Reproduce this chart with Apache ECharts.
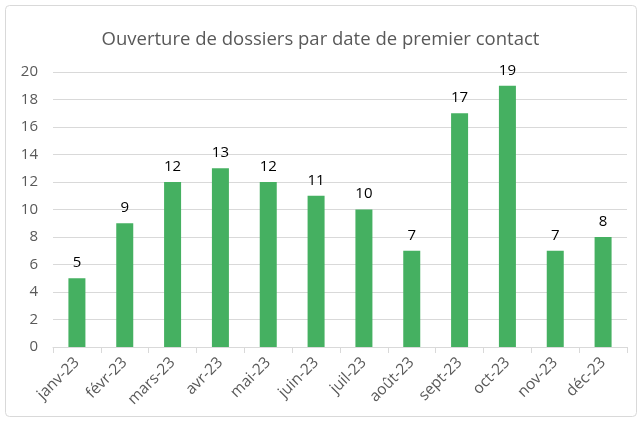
<!DOCTYPE html>
<html>
<head>
<meta charset="utf-8">
<script src="https://cdn.jsdelivr.net/npm/echarts@6/dist/echarts.min.js"></script>
<style>
  html, body { margin: 0; padding: 0; background: #fff; }
  #main { width: 641px; height: 422px; }
</style>
</head>
<body>
<div id="main"></div>
<script>
var mois = ['janv-23', 'févr-23', 'mars-23', 'avr-23', 'mai-23', 'juin-23',
  'juil-23', 'août-23', 'sept-23', 'oct-23', 'nov-23', 'déc-23'];
var dossiers = [5, 9, 12, 13, 12, 11, 10, 7, 17, 19, 7, 8];
var titre = 'Ouverture de dossiers par date de premier contact';

var myChart = echarts.init(document.getElementById('main'));
var police = 'Open Sans';

var option = {
  backgroundColor: '#fff',
  title: {
    text: titre,
    left: 'center',
    top: 25,
    textStyle: { fontFamily: police, fontSize: 18.5, fontWeight: 'normal', color: '#595959' }
  },
  graphic: [{
    type: 'rect',
    shape: { x: 5.5, y: 5.5, width: 631, height: 411, r: 4 },
    style: { fill: 'none', stroke: '#d9d9d9', lineWidth: 1 },
    silent: true
  }],
  grid: { left: 53, right: 14, top: 72, bottom: 75 },
  xAxis: {
    type: 'category',
    data: mois,
    axisLine: { lineStyle: { color: '#d9d9d9' } },
    axisTick: { show: true, length: 6, lineStyle: { color: '#d9d9d9' } },
    axisLabel: { rotate: 45, color: '#595959', fontFamily: police, fontSize: 15.5, margin: 13 }
  },
  yAxis: {
    type: 'value',
    min: 0,
    max: 20,
    interval: 2,
    axisLine: { show: false },
    axisTick: { show: false },
    splitLine: { lineStyle: { color: '#d9d9d9' } },
    axisLabel: { color: '#595959', fontFamily: police, fontSize: 15, margin: 15 }
  },
  series: [{
    name: 'Dossiers',
    type: 'bar',
    data: dossiers,
    barWidth: 17,
    itemStyle: { color: '#45b061' },
    label: { show: true, position: 'top', distance: 8, color: '#000', fontFamily: police, fontSize: 15 }
  }]
};

myChart.setOption(option);
</script>
</body>
</html>
